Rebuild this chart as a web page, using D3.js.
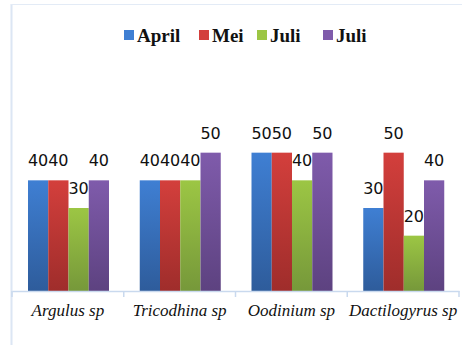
<!DOCTYPE html>
<html>
<head>
<meta charset="utf-8">
<script src="https://cdn.jsdelivr.net/npm/d3@7"></script>
<style>
  html, body { margin: 0; padding: 0; background: #fff; }
  svg { display: block; }
  .cat-label { font-family: "Liberation Serif", "Times New Roman", "DejaVu Serif", serif; font-style: italic; font-size: 17px; fill: #111; }
  .val-label { font-family: "DejaVu Sans", sans-serif; font-size: 16px; fill: #111; }
  .leg-label { font-family: "Liberation Serif", "Times New Roman", serif; font-weight: bold; font-size: 19px; fill: #111; }
</style>
</head>
<body>
<svg id="chart" width="462" height="345"></svg>
<script>
// Parasite species observed, per sampling month
const categories = ["Argulus sp", "Tricodhina sp", "Oodinium sp", "Dactilogyrus sp"];
const seriesNames = ["April", "Mei", "Juli", "Juli"];
const april = [40, 40, 50, 30];
const mei   = [40, 40, 50, 50];
const juli1 = [30, 40, 40, 20];
const juli2 = [40, 50, 50, 40];
const seriesValues = [april, mei, juli1, juli2];

// gradient stops per series: [top, bottom]
const colors = [
  ["#3f7fd3", "#2e5c9b"],
  ["#d33f3c", "#9f2d2b"],
  ["#9cc644", "#76983a"],
  ["#7f5bab", "#5d4280"]
];

const svg = d3.select("#chart");
const W = 462, H = 345;
const plot = { left: 12, right: 459, top: 4, bottom: 291 };

const x0 = d3.scaleBand().domain(categories).range([plot.left, plot.right]).paddingInner(0).paddingOuter(0);
const x1 = d3.scaleBand().domain(d3.range(seriesNames.length)).range([16, 97]).padding(0);
const y = d3.scaleLinear().domain([0, 60]).range([plot.bottom, 125]);

// gradients
const defs = svg.append("defs");
colors.forEach((c, i) => {
  const g = defs.append("linearGradient").attr("id", "g" + i)
    .attr("x1", 0).attr("y1", 0).attr("x2", 0).attr("y2", 1);
  g.append("stop").attr("offset", "0%").attr("stop-color", c[0]);
  g.append("stop").attr("offset", "100%").attr("stop-color", c[1]);
});

// frame lines
svg.append("line").attr("x1", plot.left - 0.5).attr("x2", plot.left - 0.5)
  .attr("y1", plot.top).attr("y2", H).attr("stroke", "#dce6f4").attr("stroke-width", 2);
svg.append("line").attr("x1", plot.left - 1).attr("x2", W)
  .attr("y1", plot.top + 0.5).attr("y2", plot.top + 0.5).attr("stroke", "#e3ebf6").attr("stroke-width", 1);

// bars
const groups = svg.append("g").selectAll("g").data(categories).join("g")
  .attr("transform", d => `translate(${x0(d)},0)`);

groups.each(function(cat, ci) {
  const g = d3.select(this);
  seriesValues.forEach((vals, si) => {
    const v = vals[ci];
    g.append("rect")
      .attr("x", x1(si)).attr("y", y(v))
      .attr("width", x1.bandwidth()).attr("height", y(0) - y(v))
      .attr("fill", `url(#g${si})`);
  });
});

// value labels
groups.each(function(cat, ci) {
  const g = d3.select(this);
  seriesValues.forEach((vals, si) => {
    const v = vals[ci];
    g.append("text").attr("class", "val-label")
      .attr("x", x1(si) + x1.bandwidth() / 2).attr("y", y(v) - 14)
      .attr("text-anchor", "middle")
      .text(v);
  });
});

// x axis
const xAxis = d3.axisBottom(x0).tickSize(0).tickPadding(13);
const ax = svg.append("g").attr("transform", `translate(0,${plot.bottom})`).call(xAxis);
ax.attr("font-family", null).attr("font-size", null);
ax.select(".domain").attr("stroke", "#c9d9ee").attr("stroke-width", 1.5);
ax.selectAll(".tick text").attr("class", "cat-label").attr("fill", null);
// category separators
const bounds = categories.map(c => x0(c)).concat([plot.right]);
svg.append("g").selectAll("line").data(bounds).join("line")
  .attr("x1", d => d).attr("x2", d => d)
  .attr("y1", plot.bottom).attr("y2", plot.bottom + 6)
  .attr("stroke", "#c9d9ee").attr("stroke-width", 1.5);

// legend
const legendX = [124, 199, 257, 323];
const lg = svg.append("g").selectAll("g").data(seriesNames).join("g")
  .attr("transform", (d, i) => `translate(${legendX[i]},0)`);
lg.append("rect").attr("x", 0).attr("y", 30).attr("width", 10).attr("height", 10)
  .attr("fill", (d, i) => colors[i][0]);
lg.append("text").attr("class", "leg-label").attr("x", 13).attr("y", 42)
  .text(d => d);
</script>
</body>
</html>
